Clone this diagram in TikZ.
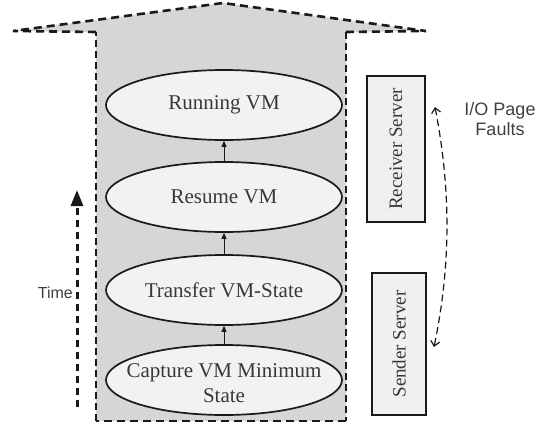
\documentclass[tikz,border=0pt]{standalone}
\usepackage{fontspec}
\setmainfont{Liberation Serif}
\newfontfamily\labelsans{Liberation Sans}
\usetikzlibrary{arrows.meta,shapes.geometric}

\definecolor{shaftgray}{HTML}{D6D6D6}
\definecolor{stagefill}{HTML}{F2F2F2}
\definecolor{boxfill}{HTML}{F0F0F0}
\definecolor{inkline}{HTML}{1A1A1A}

\tikzset{
  stage/.style={ellipse, draw=inkline, line width=1.7pt, fill=stagefill,
    minimum width=236pt, minimum height=70pt, inner sep=0pt},
  stagetext/.style={align=center, inner sep=0pt,
    font=\fontsize{21}{25}\selectfont, text=black!78},
  server/.style={draw=inkline, line width=1.3pt, fill=boxfill, rotate=90,
    inner sep=0pt, font=\fontsize{19}{22}\selectfont, text=black!78},
  stepflow/.style={-{Triangle[length=6pt,width=5pt]}, line width=0.9pt, draw=inkline},
  outline/.style={draw=inkline, line width=2.6pt, dash pattern=on 8pt off 5pt},
  sidenote/.style={font=\labelsans\fontsize{18}{20}\selectfont, text=black!75, align=center},
}

\begin{document}
\begin{tikzpicture}[x=1pt,y=-1pt]
\useasboundingbox (0,0) rectangle (544,423);

% block arrow pointing upwards (time direction)
\fill[shaftgray] (96,421) -- (96,32) -- (13,31) -- (223,3) -- (426,31) -- (346,32) -- (346,421) -- cycle;
\draw[outline] (346,421) -- (96,421);
\draw[outline, dash pattern=on 7pt off 4pt] (96,421) -- (96,32);
\draw[outline, dash pattern=on 7pt off 4pt] (346,32) -- (346,421);
\draw[outline] (96,32) -- (13,31) -- (223,3) -- (426,31) -- (346,32);

% migration stages (fixed-size ellipses, label set on top)
\node[stage, label={[stagetext]center:Running VM}]        (run)      at (224,105) {};
\node[stage, label={[stagetext]center:Resume VM}]         (resume)   at (224,197) {};
\node[stage, label={[stagetext]center:Transfer VM-State}] (transfer) at (224,290) {};
\node[stage, label={[stagetext, yshift=-3pt]center:Capture VM Minimum\\State}] (capture) at (224,380) {};

\draw[stepflow] (capture.north)  -- (transfer.south);
\draw[stepflow] (transfer.north) -- (resume.south);
\draw[stepflow] (resume.north)   -- (run.south);

% time axis
\coordinate (tstart) at (77,407);
\coordinate (tend)   at (77,190);
\draw[draw=inkline, line width=3pt, dash pattern=on 7pt off 5pt,
  -{Triangle[length=16pt,width=12pt]}] (tstart) -- (tend);
\node[sidenote, anchor=east, inner sep=0pt, font=\labelsans\fontsize{16}{18}\selectfont] (time) at (73,293) {Time};

% servers
\node[server, minimum width=146pt, minimum height=58pt] (recv) at (396,149) {Receiver Server};
\node[server, minimum width=142pt, minimum height=54pt] (send) at (399,344) {Sender Server};

% page faults between servers
\coordinate (pfa) at (435,107);
\coordinate (pfb) at (434,347);
\draw[draw=inkline, line width=1.2pt, dash pattern=on 7pt off 4pt,
  {Straight Barb[length=5pt,width=9pt]}-{Straight Barb[length=5pt,width=9pt]}]
  (pfa) .. controls (451,190) and (451,265) .. (pfb);
\node[sidenote] (faults) at (500,119) {I/O Page\\Faults};
\end{tikzpicture}
\end{document}
